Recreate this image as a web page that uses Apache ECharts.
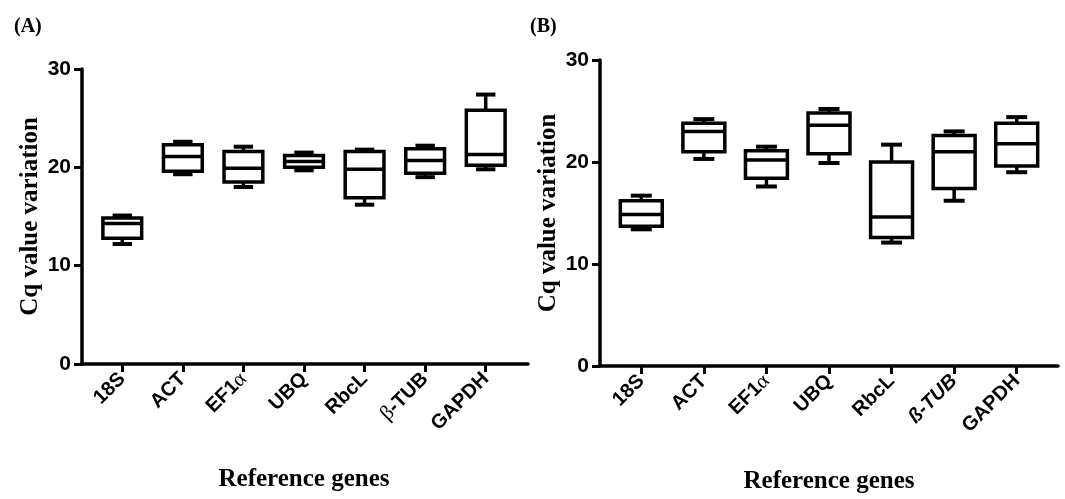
<!DOCTYPE html>
<html>
<head>
<meta charset="utf-8">
<script src="https://cdn.jsdelivr.net/npm/echarts@6/dist/echarts.min.js"></script>
<style>
  html, body { margin: 0; padding: 0; background: #fff; }
  #chart { width: 1065px; height: 499px; }
</style>
</head>
<body>
<div id="chart"></div>
<script>
// gene names per panel
const genesA = ['18S', 'ACT', 'EF1α', 'UBQ', 'RbcL', 'β-TUB', 'GAPDH'];
const genesB = ['18S', 'ACT', 'EF1α', 'UBQ', 'RbcL', 'ß-TUB', 'GAPDH'];

// panel (A) box values
const minA = [12.2, 19.3, 18.0, 19.7, 16.2, 19.0, 19.8];
const q1A  = [12.8, 19.6, 18.5, 20.0, 16.9, 19.4, 20.2];
const medA = [14.3, 21.1, 19.9, 20.6, 19.8, 20.7, 21.3];
const q3A  = [14.85, 22.3, 21.6, 21.2, 21.6, 21.9, 25.8];
const maxA = [15.1, 22.6, 22.1, 21.5, 21.8, 22.2, 27.4];

// panel (B) box values
const minB = [13.4, 20.3, 17.6, 19.9, 12.1, 16.2, 19.0];
const q1B  = [13.7, 21.0, 18.4, 20.8, 12.6, 17.4, 19.6];
const medB = [14.85, 23.0, 20.2, 23.6, 14.6, 21.0, 21.8];
const q3B  = [16.2, 23.8, 21.1, 24.8, 20.0, 22.6, 23.8];
const maxB = [16.7, 24.2, 21.5, 25.2, 21.7, 23.0, 24.4];

// y axis ticks
const yTicks = [0, 10, 20, 30];

const SANS = 'Liberation Sans, Arial, sans-serif';
const SERIF = 'Liberation Serif, Times New Roman, serif';

const chart = echarts.init(document.getElementById('chart'));

const toRows = (mins, q1s, meds, q3s, maxs) =>
  mins.map((v, i) => [i, v, q1s[i], meds[i], q3s[i], maxs[i]]);

// box + whiskers like GraphPad (caps half the box width)
const makeRenderer = (ratio) => (params, api) => {
  const idx = api.value(0);
  const band = api.size([1, 0])[0];
  const half = band * ratio / 2;
  const capHalf = half * 0.5;
  const cx = api.coord([idx, 0])[0];
  const yMin = api.coord([idx, api.value(1)])[1];
  const yQ1 = api.coord([idx, api.value(2)])[1];
  const yMed = api.coord([idx, api.value(3)])[1];
  const yQ3 = api.coord([idx, api.value(4)])[1];
  const yMax = api.coord([idx, api.value(5)])[1];
  const line = { stroke: '#000', lineWidth: 3.5 };
  const cap = { stroke: '#000', lineWidth: 4 };
  return {
    type: 'group',
    children: [
      { type: 'line', shape: { x1: cx, y1: yQ3, x2: cx, y2: yMax }, style: line },
      { type: 'line', shape: { x1: cx, y1: yQ1, x2: cx, y2: yMin }, style: line },
      { type: 'line', shape: { x1: cx - capHalf, y1: yMax, x2: cx + capHalf, y2: yMax }, style: cap },
      { type: 'line', shape: { x1: cx - capHalf, y1: yMin, x2: cx + capHalf, y2: yMin }, style: cap },
      { type: 'rect', shape: { x: cx - half, y: yQ3, width: half * 2, height: yQ1 - yQ3 },
        style: { fill: '#fff', stroke: '#000', lineWidth: 3.5 } },
      { type: 'line', shape: { x1: cx - half, y1: yMed, x2: cx + half, y2: yMed }, style: line }
    ]
  };
};

// rich label formatter (greek letters in serif, italic ß-TUB)
const labelFormatter = (v) => {
  if (v === 'EF1α') return 'EF1{g|α}';
  if (v === 'β-TUB') return '{g|β}-TUB';
  if (v === 'ß-TUB') return '{i|ß-TUB}';
  return v;
};

const catLabel = {
  rotate: 45,
  margin: 12,
  color: '#000',
  fontFamily: SANS,
  fontWeight: 'bold',
  fontSize: 20,
  formatter: labelFormatter,
  rich: {
    g: { fontFamily: SERIF, fontSize: 21, fontWeight: 'normal', color: '#000' },
    i: { fontFamily: SANS, fontSize: 20, fontWeight: 'bold', fontStyle: 'italic', color: '#000' }
  }
};

const axisLine = { show: true, lineStyle: { color: '#000', width: 3.5 } };

// frame axes (y axis + full-length x line)
const frameX = (grid) => ({
  type: 'value', gridIndex: grid, min: 0, max: 1,
  axisLine: axisLine, axisTick: { show: false }, axisLabel: { show: false }, splitLine: { show: false }
});
const frameY = (grid) => ({
  type: 'value', gridIndex: grid,
  min: yTicks[0], max: yTicks[yTicks.length - 1], interval: yTicks[1] - yTicks[0],
  axisLine: axisLine,
  axisTick: { show: true, length: 8, lineStyle: { color: '#000', width: 3 } },
  axisLabel: { color: '#000', fontFamily: SANS, fontWeight: 'bold', fontSize: 21, margin: 11 },
  splitLine: { show: false },
  name: 'Cq value variation',
  nameLocation: 'middle',
  nameGap: 39,
  nameTextStyle: { color: '#000', fontFamily: SERIF, fontWeight: 'bold', fontSize: 25 }
});
const catX = (grid, data) => ({
  type: 'category', gridIndex: grid, data: data, boundaryGap: true,
  axisLine: { show: false },
  axisTick: { show: true, alignWithLabel: true, length: 8, lineStyle: { color: '#000', width: 3 } },
  axisLabel: catLabel,
  name: 'Reference genes',
  nameLocation: 'middle',
  nameGap: 103,
  nameTextStyle: { color: '#000', fontFamily: SERIF, fontWeight: 'bold', fontSize: 25 }
});
const hiddenY = (grid) => ({
  type: 'value', gridIndex: grid,
  min: yTicks[0], max: yTicks[yTicks.length - 1], show: false
});

const option = {
  animation: false,
  backgroundColor: '#fff',
  title: [
    { text: '(A)', left: 9, top: 12, textStyle: { fontFamily: SERIF, fontWeight: 'bold', fontSize: 20, color: '#000' } },
    { text: '(B)', left: 525, top: 12, textStyle: { fontFamily: SERIF, fontWeight: 'bold', fontSize: 20, color: '#000' } }
  ],
  grid: [
    { left: 82, right: 537, top: 69, bottom: 135 },
    { left: 92, right: 549, top: 69, bottom: 135 },
    { left: 600, right: 7, top: 60, bottom: 133 },
    { left: 610, right: 17, top: 60, bottom: 133 }
  ],
  xAxis: [frameX(0), catX(1, genesA), frameX(2), catX(3, genesB)],
  yAxis: [frameY(0), hiddenY(1), frameY(2), hiddenY(3)],
  series: [
    {
      type: 'custom', xAxisIndex: 1, yAxisIndex: 1,
      renderItem: makeRenderer(0.64),
      encode: { x: 0, y: [1, 2, 3, 4, 5] },
      data: toRows(minA, q1A, medA, q3A, maxA)
    },
    {
      type: 'custom', xAxisIndex: 3, yAxisIndex: 3,
      renderItem: makeRenderer(0.67),
      encode: { x: 0, y: [1, 2, 3, 4, 5] },
      data: toRows(minB, q1B, medB, q3B, maxB)
    }
  ]
};

chart.setOption(option);
</script>
</body>
</html>
